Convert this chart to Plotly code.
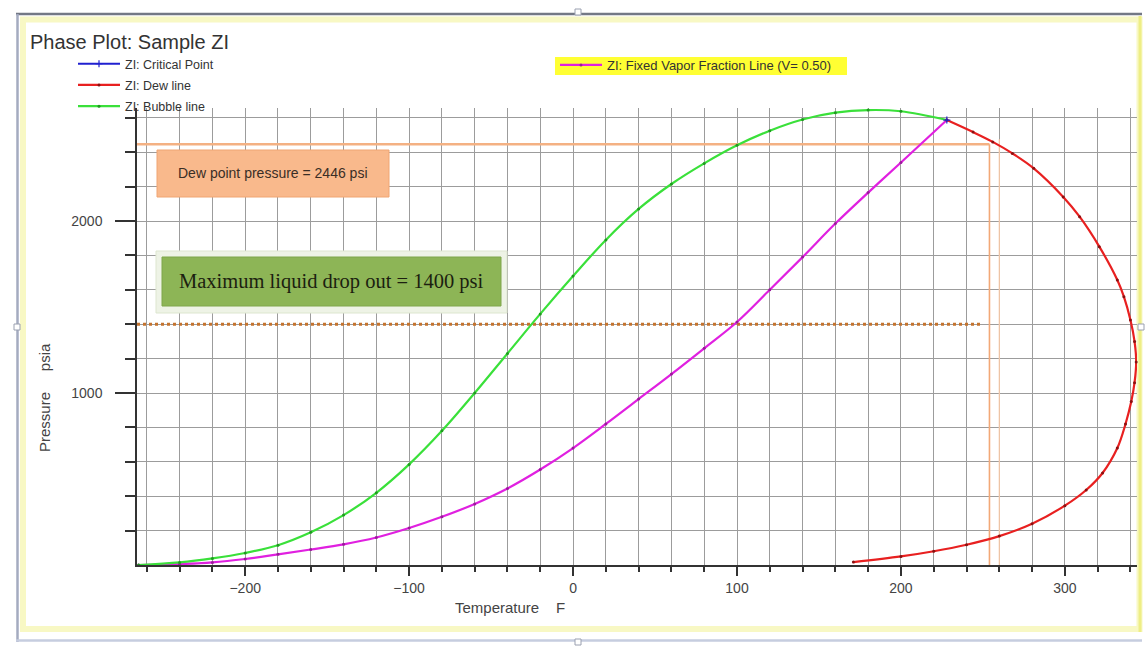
import plotly.graph_objects as go

# ---- phase envelope data (Temperature in F, Pressure in psia) ----
bubble_T = [-265, -240, -220, -200, -180, -160, -140, -120, -100, -80, -60, -40, -20, 0, 20, 40, 60, 80, 100, 120, 140, 160, 180, 200, 228]
bubble_P = [0, 15, 38, 70, 115, 190, 290, 420, 585, 780, 1000, 1230, 1460, 1680, 1890, 2070, 2215, 2335, 2440, 2525, 2590, 2630, 2645, 2638, 2587]

dew_T = [228, 244, 256, 268, 281, 299, 309, 321, 332, 336, 340, 342.5, 343.5, 342.5, 340.5, 337, 332, 323, 313, 300, 280, 260, 240, 220, 200, 171]
dew_P = [2587, 2517, 2460, 2393, 2306, 2140, 2025, 1851, 1657, 1560, 1424, 1300, 1180, 1060, 950, 820, 680, 535, 436, 345, 240, 168, 118, 80, 50, 17]

vapor_T = [-265, -240, -220, -200, -180, -160, -140, -120, -100, -80, -60, -40, -20, 0, 20, 40, 60, 80, 100, 120, 140, 160, 180, 200, 228]
vapor_P = [0, 5, 15, 35, 62, 90, 120, 160, 215, 280, 355, 445, 555, 680, 820, 965, 1110, 1260, 1413, 1600, 1790, 1985, 2165, 2340, 2587]

critical_T = [228]
critical_P = [2587]

# reference values called out on the chart
dew_point_pressure = 2446
dew_point_temp = 254
max_dropout_pressure = 1400
max_dropout_temp = 250

x_range = [-266, 344]
y_range = [0, 2657]
x_ticks = [-200, -100, 0, 100, 200, 300]
y_ticks = [1000, 2000]

# ---- page geometry ----
W, H = 1147, 653
ML, MR, MT, MB = 137, 10, 108, 88
PW, PH = W - ML - MR, H - MT - MB


def px(xp):
    return (xp - ML) / PW


def py(yp):
    return (H - MB - yp) / PH


fig = go.Figure()

fig.add_trace(go.Scatter(
    x=vapor_T, y=vapor_P, mode="lines+markers", line_shape="spline",
    name="ZI: Fixed Vapor Fraction Line (V= 0.50)",
    line=dict(color="#e020e0", width=2.2),
    marker=dict(size=3, color="#9a1a9a"), legend="legend2", cliponaxis=False,
))
fig.add_trace(go.Scatter(
    x=bubble_T, y=bubble_P, mode="lines+markers", line_shape="spline",
    name="ZI: Bubble line", line=dict(color="#3ae03a", width=2.2),
    marker=dict(size=3, color="#1f9a1f"), legendgroup="c", legendrank=3, cliponaxis=False,
))
fig.add_trace(go.Scatter(
    x=dew_T, y=dew_P, mode="lines+markers", line_shape="spline",
    name="ZI: Dew line", line=dict(color="#e82020", width=2.2),
    marker=dict(size=3, color="#8a1010"), legendgroup="b", legendrank=2, cliponaxis=False,
))
fig.add_trace(go.Scatter(
    x=critical_T, y=critical_P, mode="lines+markers",
    name="ZI: Critical Point", line=dict(color="#2020d0", width=2),
    marker=dict(size=5, color="#2020d0", symbol="cross-thin", line=dict(width=1.2, color="#2020d0")),
    legendgroup="a", legendrank=1, cliponaxis=False,
))

shapes = []
# dew point pressure guide lines
shapes.append(dict(type="line", xref="x", yref="y", x0=x_range[0], x1=dew_point_temp,
                   y0=dew_point_pressure, y1=dew_point_pressure,
                   line=dict(color="#f4b183", width=2.5), layer="between"))
shapes.append(dict(type="line", xref="x", yref="y", x0=dew_point_temp, x1=dew_point_temp,
                   y0=0, y1=dew_point_pressure,
                   line=dict(color="#f2a877", width=1.6), layer="between"))
shapes.append(dict(type="line", xref="x", yref="y", x0=260, x1=260,
                   y0=0, y1=dew_point_pressure + 30,
                   line=dict(color="#f7c9a8", width=1.2), layer="between"))
# maximum liquid dropout guide line
shapes.append(dict(type="line", xref="x", yref="y", x0=x_range[0], x1=max_dropout_temp,
                   y0=max_dropout_pressure, y1=max_dropout_pressure,
                   line=dict(color="#c4732e", width=3, dash="dot"), layer="between"))

# annotation boxes
shapes.append(dict(type="rect", xref="paper", yref="paper",
                   x0=px(157), x1=px(389), y0=py(197), y1=py(150),
                   fillcolor="#f9b98c", line=dict(color="#f0a573", width=1)))
shapes.append(dict(type="rect", xref="paper", yref="paper",
                   x0=px(156), x1=px(507), y0=py(313), y1=py(251),
                   fillcolor="#eef3e6", line=dict(color="#dde6cf", width=1)))
shapes.append(dict(type="rect", xref="paper", yref="paper",
                   x0=px(162), x1=px(501), y0=py(306), y1=py(257),
                   fillcolor="#8db556", line=dict(color="#7fa64b", width=1)))

# yellow highlight behind the vapor-fraction legend entry
shapes.append(dict(type="rect", xref="paper", yref="paper",
                   x0=px(555), x1=px(847), y0=py(75), y1=py(57),
                   fillcolor="#ffff33", line=dict(width=0)))

# window frame
shapes.append(dict(type="rect", xref="paper", yref="paper",
                   x0=px(23), x1=px(1139.5), y0=py(629), y1=py(19.5),
                   line=dict(color="#f8f8c4", width=6), layer="below"))
shapes.append(dict(type="line", xref="paper", yref="paper",
                   x0=px(1140), x1=px(1140), y0=py(632), y1=py(16),
                   line=dict(color="#eeee86", width=3)))
shapes.append(dict(type="line", xref="paper", yref="paper",
                   x0=px(16), x1=px(1142), y0=py(14), y1=py(14),
                   line=dict(color="#737885", width=2.5)))
shapes.append(dict(type="line", xref="paper", yref="paper",
                   x0=px(17.5), x1=px(17.5), y0=py(642), y1=py(14),
                   line=dict(color="#a4abc0", width=2.5)))
shapes.append(dict(type="line", xref="paper", yref="paper",
                   x0=px(16), x1=px(1142), y0=py(640.5), y1=py(640.5),
                   line=dict(color="#c6cddf", width=2.5)))
for hx, hy in [(578, 12), (578, 642), (17, 327), (1141, 327)]:
    shapes.append(dict(type="rect", xref="paper", yref="paper",
                       x0=px(hx - 3), x1=px(hx + 3), y0=py(hy + 3), y1=py(hy - 3),
                       fillcolor="#ffffff", line=dict(color="#9aa0b0", width=1)))

annotations = [
    dict(text="Phase Plot: Sample ZI", xref="paper", yref="paper", x=px(28), y=py(42),
         xanchor="left", yanchor="middle", showarrow=False,
         font=dict(family="Liberation Sans, Arial", size=20, color="#333333")),
    dict(text="Dew point pressure = 2446 psi", xref="paper", yref="paper",
         x=px(273), y=py(173), xanchor="center", yanchor="middle", showarrow=False,
         font=dict(family="Liberation Sans Narrow, Liberation Sans, Arial", size=14, color="#3a2e26")),
    dict(text="Maximum liquid drop out = 1400 psi", xref="paper", yref="paper",
         x=px(331), y=py(281), xanchor="center", yanchor="middle", showarrow=False,
         font=dict(family="Liberation Serif, Times New Roman", size=20.5, color="#1c1f10")),
    dict(text="Temperature&nbsp;&nbsp;&nbsp;&nbsp;F", xref="paper", yref="paper",
         x=px(510), y=py(607), xanchor="center", yanchor="middle", showarrow=False,
         font=dict(family="Liberation Sans Narrow, Liberation Sans, Arial", size=15, color="#444444")),
    dict(text="Pressure&nbsp;&nbsp;&nbsp;&nbsp;&nbsp;psia", xref="paper", yref="paper",
         x=px(44), y=py(398), xanchor="center", yanchor="middle", showarrow=False, textangle=-90,
         font=dict(family="Liberation Sans, Arial", size=15, color="#444444")),
]

grid_color = "#9c9c9c"

fig.update_layout(
    width=W, height=H,
    margin=dict(l=ML, r=MR, t=MT, b=MB, autoexpand=False),
    paper_bgcolor="white", plot_bgcolor="white",
    shapes=shapes, annotations=annotations,
    legend=dict(x=px(73), y=py(49), xanchor="left", yanchor="top",
                bgcolor="rgba(0,0,0,0)", font=dict(family="Liberation Sans, Arial", size=12.5, color="#333333"),
                tracegroupgap=2, traceorder="grouped", itemwidth=42),
    legend2=dict(x=px(555), y=py(50), xanchor="left", yanchor="top",
                 bgcolor="rgba(0,0,0,0)", font=dict(family="Liberation Sans, Arial", size=13, color="#333333"),
                 itemwidth=42),
    xaxis=dict(
        range=x_range, tickmode="array", tickvals=x_ticks,
        ticks="outside", ticklen=9, tickwidth=1.5, tickcolor="#333333",
        showline=True, linecolor="#333333", linewidth=1.5, zeroline=False,
        showgrid=True, gridcolor=grid_color, gridwidth=1.2,
        tickfont=dict(family="Liberation Sans, Arial", size=14, color="#444444"),
        minor=dict(tickmode="array", tickvals=list(range(-260, 345, 20)),
                   ticks="outside", ticklen=5, tickcolor="#333333",
                   showgrid=True, gridcolor=grid_color, gridwidth=1.2),
    ),
    yaxis=dict(
        range=y_range, tickmode="array", tickvals=y_ticks,
        ticks="outside", ticklen=20, tickwidth=2, tickcolor="#333333",
        showline=True, linecolor="#333333", linewidth=1.5, zeroline=False,
        showgrid=True, gridcolor=grid_color, gridwidth=1.2, ticklabelstandoff=10,
        tickfont=dict(family="Liberation Sans, Arial", size=14, color="#444444"),
        minor=dict(tickmode="array", tickvals=list(range(200, 2657, 200)),
                   ticks="outside", ticklen=10, tickcolor="#333333",
                   showgrid=True, gridcolor=grid_color, gridwidth=1.2),
    ),
)

fig.write_html("out.html")
